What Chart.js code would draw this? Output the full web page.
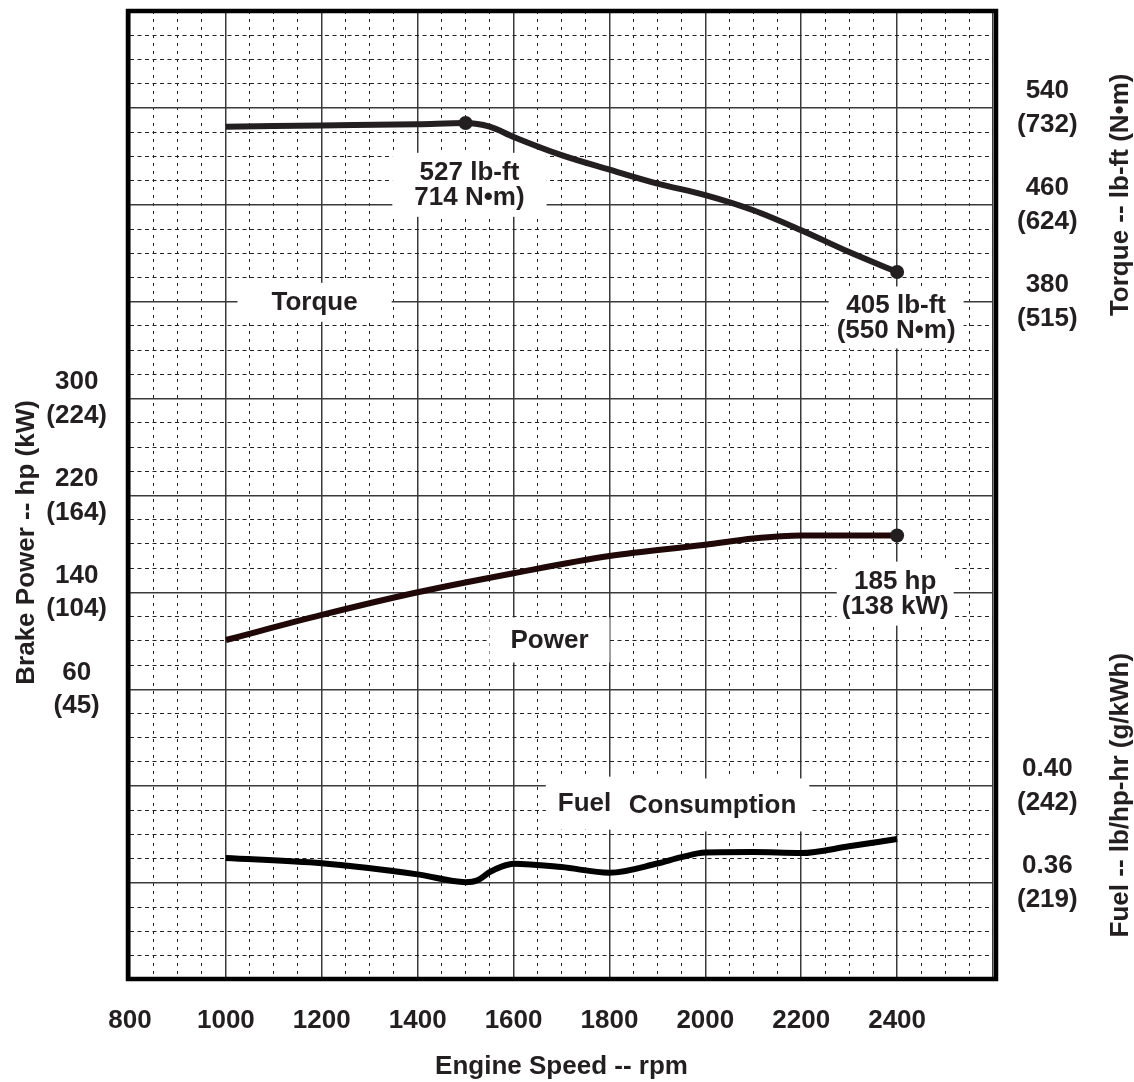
<!DOCTYPE html>
<html>
<head>
<meta charset="utf-8">
<script src="https://cdn.jsdelivr.net/npm/chart.js@4.4.1/dist/chart.umd.min.js"></script>
<style>
  html, body { margin: 0; padding: 0; background: #fff; }
  #wrap { width: 1134px; height: 1082px; position: relative; }
</style>
</head>
<body>
<div id="wrap"><canvas id="curvas"></canvas></div>
<script>
// datos
const torqueRpm = [1000, 1200, 1400, 1500, 1550, 1600, 1700, 1800, 1900, 2000, 2100, 2200, 2300, 2400];
const torqueLbFt = [524.5, 525.5, 526.5, 527.5, 524.5, 516, 501, 489, 477.5, 468, 455.5, 439, 421, 404.5];
const torqueMarks = [1500, 2400];

const powerRpm = [1000, 1200, 1400, 1600, 1800, 2000, 2100, 2200, 2300, 2400];
const powerHp = [100.7, 121.4, 140.1, 155.8, 170, 179.3, 184.5, 187, 187, 187];
const powerMarks = [2400];

const fuelRpm = [1000, 1200, 1400, 1500, 1525, 1550, 1575, 1600, 1700, 1800, 1900, 1950, 2000, 2100, 2200, 2300, 2400];
const fuelLbHpHr = [0.3704, 0.3682, 0.3636, 0.3604, 0.3612, 0.3645, 0.3668, 0.368, 0.3666, 0.3643, 0.3681, 0.3707, 0.3726, 0.3728, 0.3724, 0.3752, 0.3782];

// etiquetas de los ejes
const rpmTicks = [800, 1000, 1200, 1400, 1600, 1800, 2000, 2200, 2400];
const powerTicks = [60, 140, 220, 300];
const powerKwTicks = [45, 104, 164, 224];
const torqueTicks = [540, 460, 380];
const torqueNmTicks = [732, 624, 515];
const fuelTicks = [0.40, 0.36];
const fuelGTicks = [242, 219];

const ink = '#231f20';
const font26 = 'bold 26px "Liberation Sans", Arial, Helvetica, sans-serif';
const lineGap = 25;

// rangos de las escalas
const yMin = -180, yMax = 620;
const fMin = 0.32, fMax = 0.72;

// textos dentro de la grafica (posicion en rpm / unidades del eje)
const plotLabels = [
    { lines: ['527 lb-ft', '714 N\u2022m)'], rpm: 1508, value: 476.5, padX: 22, padY: 7 },
    { lines: ['405 lb-ft', '(550 N\u2022m)'], rpm: 2398, value: 367, padX: 8, padY: 6 },
    { lines: ['185 hp', '(138 kW)'], rpm: 2396, value: 139, padX: 5, padY: 7 },
    { lines: ['Torque'], rpm: 1185, value: 379.5, padX: 34, padY: 7 },
    { lines: ['Power'], rpm: 1675, value: 100.7, padX: 21, padY: 10 },
    { lines: ['Fuel'], rpm: 1748, value: -34, padX: 12, padY: 14 },
    { lines: ['Consumption'], rpm: 2015, value: -35.5, padX: 13, padY: 14 }
];

const xy = (xs, ys) => xs.map((v, i) => ({ x: v, y: ys[i] }));
const isMajorX = v => (v - 800) % 200 === 0;
const isMajorY = v => (v - yMin) % 80 === 0;
const fuelToY = f => yMin + (f - fMin) / (fMax - fMin) * (yMax - yMin);

// sin relleno extra de las etiquetas de los extremos
const noPad = s => { s.paddingTop = 0; s.paddingBottom = 0; s.paddingLeft = 0; s.paddingRight = 0; };

let rightLabels = [];

const extras = {
    id: 'extras',
    beforeDatasetsDraw(chart) {
        const { ctx, scales: { x, y } } = chart;
        ctx.save();
        ctx.font = font26;
        ctx.textAlign = 'center';
        ctx.textBaseline = 'middle';
        plotLabels.forEach(l => {
            const cx = x.getPixelForValue(l.rpm);
            const cy = y.getPixelForValue(l.value);
            const w = Math.max(...l.lines.map(t => ctx.measureText(t).width));
            const h = l.lines.length * lineGap;
            ctx.fillStyle = '#fff';
            ctx.fillRect(cx - w / 2 - l.padX, cy - h / 2 - l.padY, w + 2 * l.padX, h + 2 * l.padY);
        });
        ctx.fillStyle = ink;
        plotLabels.forEach(l => {
            const cx = x.getPixelForValue(l.rpm);
            const cy = y.getPixelForValue(l.value);
            const h = l.lines.length * lineGap;
            l.lines.forEach((t, i) => ctx.fillText(t, cx, cy - h / 2 + lineGap * (i + 0.5) + 1));
        });
        ctx.restore();
    },
    afterDraw(chart) {
        const { ctx, chartArea: a, scales: { y, yFuel } } = chart;
        ctx.save();
        // marco
        ctx.strokeStyle = '#000';
        ctx.lineWidth = 4.5;
        ctx.strokeRect(a.left - 2, a.top, a.right - a.left + 5, a.bottom - a.top - 1);
        // titulos verticales
        ctx.fillStyle = ink;
        ctx.font = font26;
        ctx.textAlign = 'center';
        ctx.textBaseline = 'middle';
        const vtext = (t, px, py) => {
            ctx.save();
            ctx.translate(px, py);
            ctx.rotate(-Math.PI / 2);
            ctx.fillText(t, 0, 0);
            ctx.restore();
        };
        vtext('Brake Power -- hp (kW)', 27, y.getPixelForValue(140) - 50);
        vtext('Torque -- lb-ft (N\u2022m)', 1121, y.getPixelForValue(460) - 10);
        vtext('Fuel -- lb/hp-hr (g/kWh)', 1121, yFuel.getPixelForValue(0.40) + 9);
        ctx.restore();
    }
};

new Chart(document.getElementById('curvas'), {
    type: 'line',
    data: {
        datasets: [{
            label: 'Torque',
            data: xy(torqueRpm, torqueLbFt),
            yAxisID: 'y',
            borderColor: ink,
            backgroundColor: ink,
            borderWidth: 6,
            cubicInterpolationMode: 'monotone',
            pointRadius: c => torqueMarks.includes(torqueRpm[c.dataIndex]) ? 7 : 0,
            pointBorderWidth: 0
        }, {
            label: 'Power',
            data: xy(powerRpm, powerHp),
            yAxisID: 'y',
            borderColor: '#200808',
            backgroundColor: ink,
            borderWidth: 6,
            cubicInterpolationMode: 'monotone',
            pointRadius: c => powerMarks.includes(powerRpm[c.dataIndex]) ? 7 : 0,
            pointBorderWidth: 0
        }, {
            label: 'Fuel Consumption',
            data: xy(fuelRpm, fuelLbHpHr),
            yAxisID: 'yFuel',
            borderColor: '#000',
            borderWidth: 6,
            cubicInterpolationMode: 'monotone',
            pointRadius: 0
        }]
    },
    options: {
        responsive: true,
        maintainAspectRatio: false,
        animation: false,
        layout: { padding: { top: 11, left: 0, right: 0, bottom: 0 } },
        plugins: {
            legend: { display: false },
            tooltip: { enabled: false }
        },
        scales: {
            x: {
                type: 'linear',
                min: 800,
                max: 2600,
                afterFit: s => { s.height = 102; noPad(s); },
                ticks: {
                    stepSize: 50,
                    autoSkip: false,
                    maxRotation: 0,
                    padding: 25,
                    color: ink,
                    font: { family: '"Liberation Sans", Arial, sans-serif', size: 26, weight: 'bold' },
                    callback: v => rpmTicks.includes(v) ? String(v) : ''
                },
                grid: {
                    drawTicks: false,
                    color: c => isMajorX(c.tick.value) ? '#3a3a3a' : '#222',
                    lineWidth: c => isMajorX(c.tick.value) ? 1.5 : 1
                },
                border: {
                    display: false,
                    dash: c => isMajorX(c.tick.value) ? [] : [3, 5]
                },
                title: {
                    display: true,
                    text: 'Engine Speed -- rpm',
                    color: ink,
                    font: { family: '"Liberation Sans", Arial, sans-serif', size: 26, weight: 'bold' },
                    padding: { top: 0, bottom: 0 }
                }
            },
            y: {
                type: 'linear',
                position: 'left',
                min: yMin,
                max: yMax,
                afterFit: s => { s.width = 130; noPad(s); },
                ticks: {
                    stepSize: 20,
                    autoSkip: false,
                    padding: 23,
                    crossAlign: 'center',
                    color: ink,
                    font: { family: '"Liberation Sans", Arial, sans-serif', size: 26, weight: 'bold', lineHeight: 1.3 },
                    callback: v => {
                        const i = powerTicks.indexOf(v);
                        return i < 0 ? '' : [String(v), '(' + powerKwTicks[i] + ')'];
                    }
                },
                grid: {
                    drawTicks: false,
                    color: c => isMajorY(c.tick.value) ? '#3a3a3a' : '#222',
                    lineWidth: c => isMajorY(c.tick.value) ? 1.5 : 1
                },
                border: {
                    display: false,
                    dash: c => isMajorY(c.tick.value) ? [] : [4, 3.5]
                }
            },
            y2: {
                type: 'linear',
                position: 'right',
                min: yMin,
                max: yMax,
                afterFit: s => { s.width = 141; noPad(s); },
                afterBuildTicks: s => {
                    const t = torqueTicks.map((v, i) => ({ value: v, label: [String(v), '(' + torqueNmTicks[i] + ')'] }));
                    const f = fuelTicks.map((v, i) => ({ value: fuelToY(v), label: [v.toFixed(2), '(' + fuelGTicks[i] + ')'] }));
                    const all = t.concat(f);
                    rightLabels = all.map(o => o.label);
                    s.ticks = all.map(o => ({ value: o.value }));
                },
                ticks: {
                    autoSkip: false,
                    padding: 24,
                    crossAlign: 'center',
                    color: ink,
                    font: { family: '"Liberation Sans", Arial, sans-serif', size: 26, weight: 'bold', lineHeight: 1.3 },
                    callback: (v, i) => rightLabels[i]
                },
                grid: { display: false, drawTicks: false },
                border: { display: false }
            },
            yFuel: {
                type: 'linear',
                display: false,
                min: fMin,
                max: fMax
            }
        }
    },
    plugins: [extras]
});
</script>
</body>
</html>
